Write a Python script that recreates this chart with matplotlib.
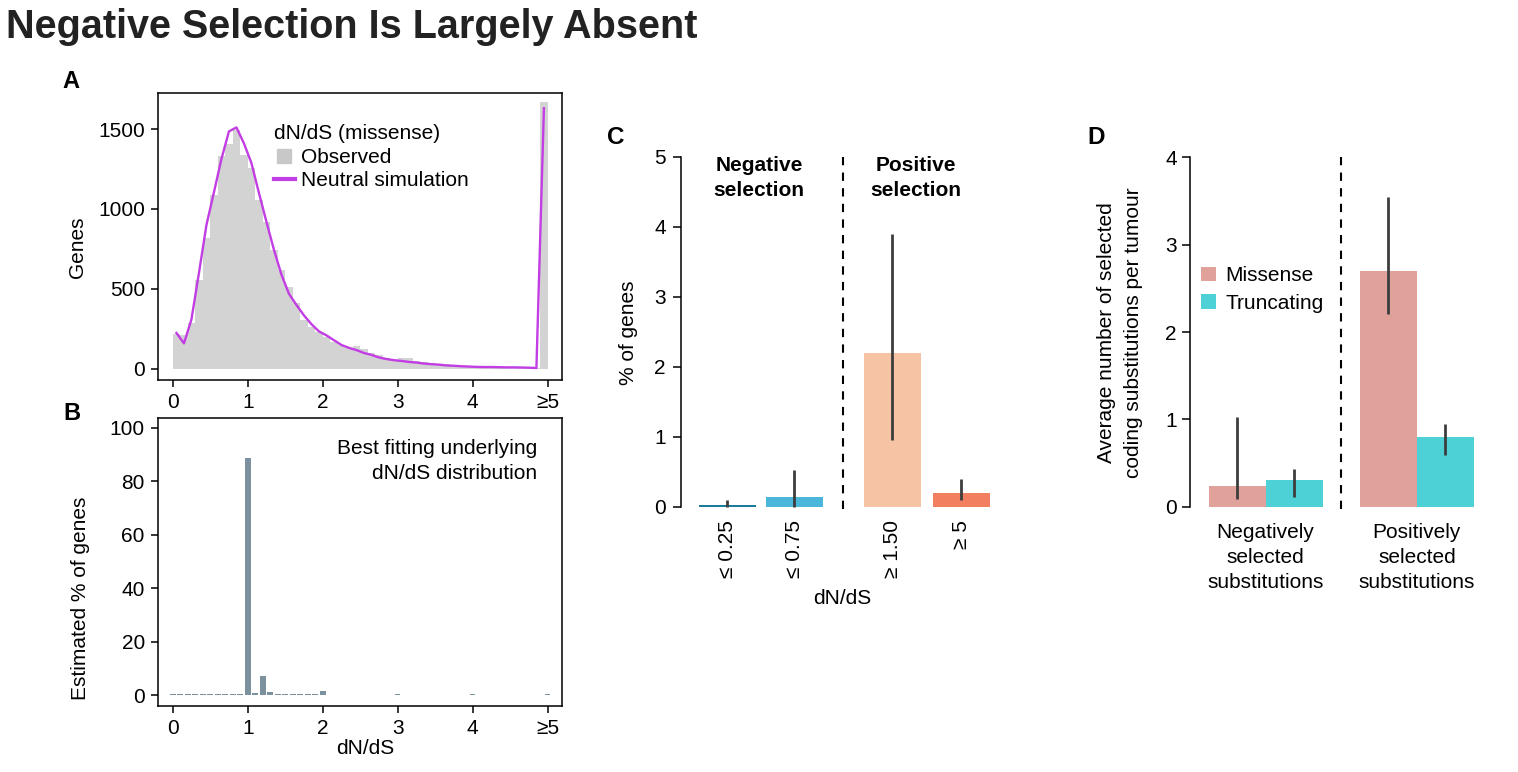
import matplotlib
matplotlib.use('Agg')
import matplotlib.pyplot as plt
from matplotlib.lines import Line2D

plt.rcParams['font.family'] = ['Liberation Sans', 'DejaVu Sans']

# ---------------- data ----------------
# Panel A: observed histogram of dN/dS (missense), 0.1-wide bins, last bin = ">=5"
hist_bin_start = [0.0, 0.1, 0.2, 0.3, 0.4, 0.5, 0.6, 0.7, 0.8, 0.9,
                  1.0, 1.1, 1.2, 1.3, 1.4, 1.5, 1.6, 1.7, 1.8, 1.9,
                  2.0, 2.1, 2.2, 2.3, 2.4, 2.5, 2.6, 2.7, 2.8, 2.9,
                  3.0, 3.1, 3.2, 3.3, 3.4, 3.5, 3.6, 3.7, 3.8, 3.9,
                  4.0, 4.1, 4.2, 4.3, 4.4, 4.5, 4.6, 4.7, 4.8, 4.9]
observed_genes = [220, 215, 285, 556, 817, 1087, 1333, 1404, 1494, 1337,
                  1254, 1056, 921, 744, 619, 514, 410, 306, 260, 233,
                  202, 171, 150, 129, 144, 123, 99, 89, 67, 57,
                  67, 71, 48, 42, 40, 33, 28, 25, 20, 18,
                  16, 14, 13, 12, 11, 10, 9, 8, 7, 1671]
neutral_genes = [225, 160, 310, 600, 900, 1105, 1313, 1485, 1510, 1410,
                 1287, 1100, 920, 745, 590, 470, 400, 335, 280, 235,
                 210, 180, 150, 132, 118, 100, 88, 72, 62, 55,
                 50, 44, 40, 34, 30, 27, 22, 20, 17, 15,
                 13, 12, 12, 11, 10, 10, 9, 8, 6, 1630]
dnds_ticks = [0, 1, 2, 3, 4, 5]
dnds_ticklabels = ['0', '1', '2', '3', '4', '\u22655']
genes_ticks = [0, 500, 1000, 1500]

# Panel B: best fitting underlying dN/dS distribution
underlying_dnds = [0.0, 0.1, 0.2, 0.3, 0.4, 0.5, 0.6, 0.7, 0.8, 0.9,
                   1.0, 1.1, 1.2, 1.3, 1.4, 1.5, 1.6, 1.7, 1.8, 1.9,
                   2.0, 3.0, 4.0, 5.0]
underlying_pct = [0.3, 0.3, 0.3, 0.3, 0.3, 0.3, 0.3, 0.3, 0.3, 0.3,
                  88.7, 0.6, 7.1, 1.1, 0.3, 0.3, 0.3, 0.3, 0.3, 0.3,
                  1.6, 0.3, 0.3, 0.3]
pct_ticks = [0, 20, 40, 60, 80, 100]

# Panel C: % of genes under selection
c_categories = ['\u2264 0.25', '\u2264 0.75', '\u2265 1.50', '\u2265 5']
c_values = [0.03, 0.14, 2.19, 0.19]
c_low = [0.0, 0.0, 0.95, 0.095]
c_high = [0.095, 0.52, 3.90, 0.39]
c_colors = ['#1b7c9a', '#4ab6d9', '#f6c4a5', '#f27f5f']
c_ticks = [0, 1, 2, 3, 4, 5]

# Panel D: average number of selected coding substitutions per tumour
d_groups = ['Negatively\nselected\nsubstitutions', 'Positively\nselected\nsubstitutions']
d_missense = [0.24, 2.70]
d_missense_low = [0.09, 2.21]
d_missense_high = [1.03, 3.55]
d_truncating = [0.30, 0.80]
d_truncating_low = [0.11, 0.59]
d_truncating_high = [0.43, 0.95]
d_ticks = [0, 1, 2, 3, 4]

# ---------------- figure ----------------
W, H = 1518, 772
fig = plt.figure(figsize=(W / 100, H / 100), dpi=100)
FS = 15
ERR_COL = '#3d3d3d'


def px_axes(left, top, right, bottom):
    return fig.add_axes([left / W, 1 - bottom / H, (right - left) / W, (bottom - top) / H])


def ftxt(x, y, s, **kw):
    return fig.text(x / W, 1 - y / H, s, **kw)


def style_ticks(ax, **kw):
    ax.tick_params(direction='out', length=4.8, width=1.1, labelsize=FS, **kw)
    for sp in ax.spines.values():
        sp.set_linewidth(1.1)


# Title
ftxt(6, 38, 'Negative Selection Is Largely Absent', fontsize=28.5,
     fontweight='bold', color='#222222', ha='left', va='baseline')

# ---- Panel A ----
axA = px_axes(157.7, 92.7, 562.3, 380)
axA.bar(hist_bin_start, observed_genes, width=0.1, align='edge',
        color='#d3d3d3', linewidth=0)
centers = [b + 0.05 for b in hist_bin_start]
axA.plot(centers, neutral_genes, color='#c23de3', lw=1.7)
axA.set_xlim(-0.2, 5.195)
axA.set_ylim(-69, 1727)
axA.set_xticks(dnds_ticks)
axA.set_xticklabels(dnds_ticklabels)
axA.set_yticks(genes_ticks)
style_ticks(axA, pad=4.5)
handles = [Line2D([], [], marker='s', linestyle='none', color='#c8c8c8',
                  markersize=10),
           Line2D([], [], color='#c23de3', lw=3)]
legA = axA.legend(handles, ['Observed', 'Neutral simulation'],
                  title='dN/dS (missense)', alignment='left', frameon=False,
                  fontsize=FS, title_fontsize=FS, loc='upper left',
                  bbox_to_anchor=(0.287, 0.89), borderpad=0,
                  handlelength=1.0, handletextpad=0.3, labelspacing=0.22,
                  borderaxespad=0)
ftxt(78, 247, 'Genes', fontsize=FS, rotation=90, ha='center', va='center')
ftxt(71, 82, 'A', fontsize=17, fontweight='bold', ha='center', va='center')

# ---- Panel B ----
axB = px_axes(157.7, 417.7, 562.3, 706)
axB.bar(underlying_dnds, underlying_pct, width=0.075, color='#7b919d',
        linewidth=0)
axB.set_xlim(-0.2, 5.195)
axB.set_ylim(-4.1, 103.7)
axB.set_xticks(dnds_ticks)
axB.set_xticklabels(dnds_ticklabels)
axB.set_yticks(pct_ticks)
style_ticks(axB, pad=4.5)
axB.text(0.937, 0.927, 'Best fitting underlying\ndN/dS distribution',
         transform=axB.transAxes, ha='right', va='top', fontsize=FS,
         multialignment='right', linespacing=1.45)
ftxt(80, 598, 'Estimated % of genes', fontsize=FS, rotation=90,
     ha='center', va='center')
ftxt(365, 748, 'dN/dS', fontsize=FS, ha='center', va='center')
ftxt(72, 413, 'B', fontsize=17, fontweight='bold', ha='center', va='center')

# ---- Panel C ----
c_ylim = (-0.1, 5.15)
c_ppu = 70.0
c_zero = 506.7
axC = px_axes(681, c_zero - c_ylim[1] * c_ppu, 1000, c_zero - c_ylim[0] * c_ppu)
c_pos = [0, 1, 2.46, 3.49]
axC.bar(c_pos, c_values, width=0.85, color=c_colors, linewidth=0)
axC.vlines(c_pos, c_low, c_high, color=ERR_COL, lw=2.0)
axC.vlines([1.72], -0.03, 5.0, color='black', lw=1.5, linestyles=(0, (4, 3.5)))
axC.set_xlim(-0.694, 4.07)
axC.set_ylim(*c_ylim)
axC.set_yticks(c_ticks)
axC.set_xticks(c_pos)
axC.set_xticklabels(c_categories, rotation=90)
for s in ['top', 'right', 'bottom']:
    axC.spines[s].set_visible(False)
style_ticks(axC)
axC.spines['left'].set_bounds(0, 5)
axC.tick_params(axis='y', length=5.5, pad=5.5)
axC.tick_params(axis='x', length=0, pad=4.5)
ftxt(759, 156, 'Negative\nselection', fontsize=FS, fontweight='bold',
     ha='center', va='top', multialignment='center', linespacing=1.4)
ftxt(916, 156, 'Positive\nselection', fontsize=FS, fontweight='bold',
     ha='center', va='top', multialignment='center', linespacing=1.4)
ftxt(628, 333, '% of genes', fontsize=FS, rotation=90, ha='center', va='center')
ftxt(842, 598, 'dN/dS', fontsize=FS, ha='center', va='center')
ftxt(616, 137, 'C', fontsize=17.5, fontweight='bold', ha='center', va='center')

# ---- Panel D ----
d_ylim = (-0.08, 4.12)
d_ppu = 87.35
d_zero = 506.7
axD = px_axes(1190, d_zero - d_ylim[1] * d_ppu, 1490, d_zero - d_ylim[0] * d_ppu)
grp = [0, 1]
bw = 0.377
mis_x = [g - bw / 2 for g in grp]
tru_x = [g + bw / 2 for g in grp]
axD.bar(mis_x, d_missense, width=bw, color='#e0a19b', linewidth=0, label='Missense')
axD.bar(tru_x, d_truncating, width=bw, color='#4dd0d6', linewidth=0, label='Truncating')
axD.vlines(mis_x, d_missense_low, d_missense_high, color=ERR_COL, lw=2.0)
axD.vlines(tru_x, d_truncating_low, d_truncating_high, color=ERR_COL, lw=2.0)
axD.vlines([0.5], -0.03, 4.0, color='black', lw=1.5, linestyles=(0, (4, 3.5)))
axD.set_xlim(-0.5, 1.483)
axD.set_ylim(*d_ylim)
axD.set_yticks(d_ticks)
axD.set_xticks(grp)
axD.set_xticklabels(d_groups)
for lbl in axD.get_xticklabels():
    lbl.set_linespacing(1.38)
for s in ['top', 'right', 'bottom']:
    axD.spines[s].set_visible(False)
style_ticks(axD)
axD.spines['left'].set_bounds(0, 4)
axD.tick_params(axis='y', length=6, pad=3.5)
axD.tick_params(axis='x', length=0, pad=6.8)
axD.legend(loc='upper left', bbox_to_anchor=(0.037, 0.674), frameon=False,
           fontsize=FS, borderpad=0, borderaxespad=0, handlelength=0.7,
           handleheight=0.7, handletextpad=0.45, labelspacing=0.4)
ftxt(1120, 333, 'Average number of selected\ncoding substitutions per tumour',
     fontsize=FS, rotation=90, ha='center', va='center',
     multialignment='center', linespacing=1.55)
ftxt(1096, 138, 'D', fontsize=17.5, fontweight='bold', ha='center', va='center')

fig.savefig('out.png', dpi=100)
